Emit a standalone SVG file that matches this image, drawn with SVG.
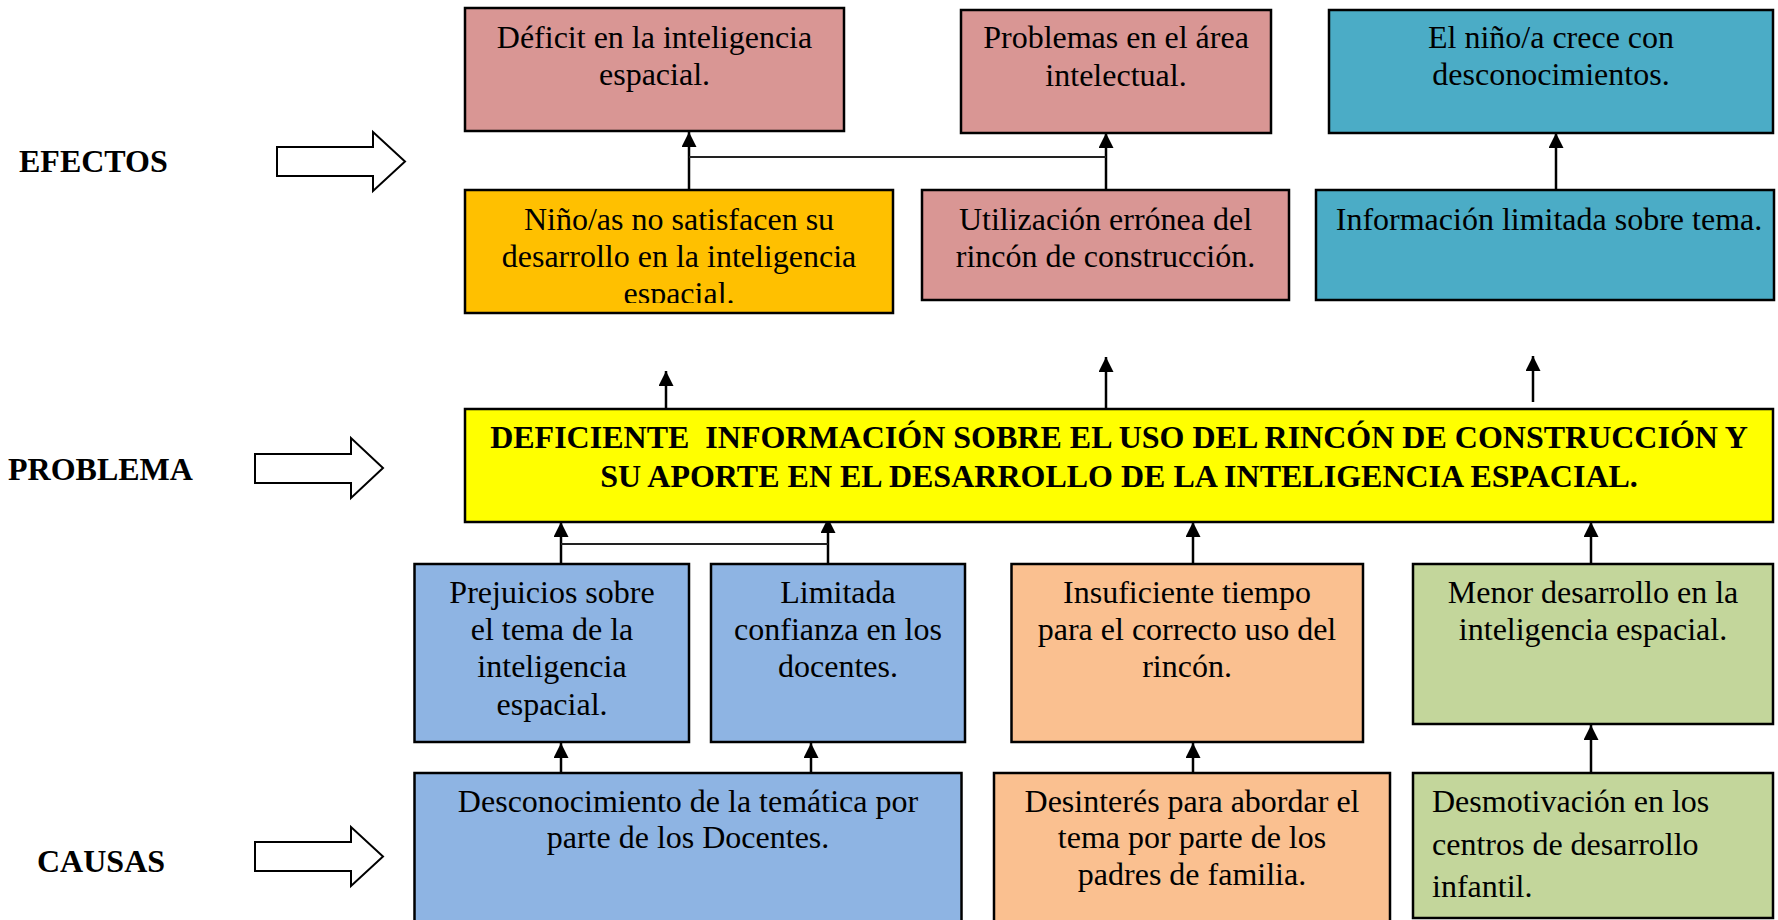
<svg xmlns="http://www.w3.org/2000/svg" width="1778" height="920" viewBox="0 0 1778 920">
<style>
.box{stroke:#000;stroke-width:2.5}
.t{font-family:"Liberation Serif","Times New Roman",serif;font-size:32px;fill:#000}
.c{text-anchor:middle}
.b{font-weight:bold}
.con{stroke:#000;stroke-width:2.5;fill:none}
.hl{stroke:#222;stroke-width:2;fill:none}
.ba{fill:#fff;stroke:#000;stroke-width:2}
.pink{fill:#D99694}.orange{fill:#FFC000}.teal{fill:#4BACC6}.yellow{fill:#FFFF00}
.blue{fill:#8EB4E3}.peach{fill:#FAC090}.green{fill:#C3D69B}
</style>
<defs>
<marker id="ah" markerUnits="userSpaceOnUse" markerWidth="16" markerHeight="16" refX="15" refY="7.5" orient="auto">
<path d="M0,0 L15,7.5 L0,15 z" fill="#000"/>
</marker>
<clipPath id="clipNino"><rect x="466" y="191" width="426" height="112"/></clipPath>
</defs>
<rect width="1778" height="920" fill="#fff"/>

<g id="labels">
<text class="t b" x="19" y="172">EFECTOS</text>
<polygon class="ba" points="277,147 373,147 373,132 405,161.5 373,191 373,176 277,176"/>
<text class="t b" x="8" y="480">PROBLEMA</text>
<polygon class="ba" points="255,454 351,454 351,438 383,468 351,498 351,483 255,483"/>
<text class="t b" x="37" y="872">CAUSAS</text>
<polygon class="ba" points="255,842 351,842 351,827 383,856.5 351,886 351,871 255,871"/>
</g>

<g id="connectors">
<line class="con" x1="689" y1="190" x2="689" y2="132" marker-end="url(#ah)"/>
<line class="con" x1="1106" y1="190" x2="1106" y2="133" marker-end="url(#ah)"/>
<line class="hl" x1="689" y1="157" x2="1106" y2="157"/>
<line class="con" x1="1556" y1="190" x2="1556" y2="133" marker-end="url(#ah)"/>
<line class="con" x1="666" y1="409" x2="666" y2="371" marker-end="url(#ah)"/>
<line class="con" x1="1106" y1="409" x2="1106" y2="357" marker-end="url(#ah)"/>
<line class="con" x1="1533" y1="402" x2="1533" y2="356" marker-end="url(#ah)"/>
<line class="con" x1="561" y1="564" x2="561" y2="522" marker-end="url(#ah)"/>
<line class="con" x1="828" y1="564" x2="828" y2="518" marker-end="url(#ah)"/>
<line class="hl" x1="561" y1="544" x2="828" y2="544"/>
<line class="con" x1="1193" y1="564" x2="1193" y2="522" marker-end="url(#ah)"/>
<line class="con" x1="1591" y1="564" x2="1591" y2="522" marker-end="url(#ah)"/>
<line class="con" x1="561" y1="773" x2="561" y2="743" marker-end="url(#ah)"/>
<line class="con" x1="811" y1="773" x2="811" y2="743" marker-end="url(#ah)"/>
<line class="con" x1="1193" y1="773" x2="1193" y2="743" marker-end="url(#ah)"/>
<line class="con" x1="1591" y1="773" x2="1591" y2="725" marker-end="url(#ah)"/>
</g>

<g id="e1">
<rect class="box pink" x="465" y="8" width="379" height="123"/>
<text class="t c" x="654.5" y="48">Déficit en la inteligencia</text>
<text class="t c" x="654.5" y="85">espacial.</text>
</g>
<g id="e2">
<rect class="box pink" x="961" y="10" width="310" height="123"/>
<text class="t c" x="1116" y="48">Problemas en el área</text>
<text class="t c" x="1116" y="86">intelectual.</text>
</g>
<g id="e3">
<rect class="box teal" x="1329" y="10" width="444" height="123"/>
<text class="t c" x="1551" y="48">El niño/a crece con</text>
<text class="t c" x="1551" y="85">desconocimientos.</text>
</g>
<g id="e4">
<rect class="box orange" x="465" y="190" width="428" height="123"/>
<g clip-path="url(#clipNino)">
<text class="t c" x="679" y="230">Niño/as no satisfacen su</text>
<text class="t c" x="679" y="267">desarrollo en la inteligencia</text>
<text class="t c" x="679" y="304">espacial.</text>
</g>
</g>
<g id="e5">
<rect class="box pink" x="922" y="190" width="367" height="110"/>
<text class="t c" x="1105.5" y="230">Utilización errónea del</text>
<text class="t c" x="1105.5" y="267">rincón de construcción.</text>
</g>
<g id="e6">
<rect class="box teal" x="1316" y="190" width="458" height="110"/>
<text class="t c" x="1549" y="230">Información limitada sobre tema.</text>
</g>

<g id="problem">
<rect class="box yellow" x="465" y="409" width="1308" height="113"/>
<text class="t c b" x="1119" y="448" xml:space="preserve">DEFICIENTE  INFORMACIÓN SOBRE EL USO DEL RINCÓN DE CONSTRUCCIÓN Y</text>
<text class="t c b" x="1119" y="487">SU APORTE EN EL DESARROLLO DE LA INTELIGENCIA ESPACIAL.</text>
</g>

<g id="c1">
<rect class="box blue" x="414.5" y="564" width="274.5" height="178"/>
<text class="t c" x="552" y="603">Prejuicios sobre</text>
<text class="t c" x="552" y="640">el tema de la</text>
<text class="t c" x="552" y="677">inteligencia</text>
<text class="t c" x="552" y="715">espacial.</text>
</g>
<g id="c2">
<rect class="box blue" x="711" y="564" width="254" height="178"/>
<text class="t c" x="838" y="603">Limitada</text>
<text class="t c" x="838" y="640">confianza en los</text>
<text class="t c" x="838" y="677">docentes.</text>
</g>
<g id="c3">
<rect class="box peach" x="1011.5" y="564" width="351.5" height="178"/>
<text class="t c" x="1187" y="603">Insuficiente tiempo</text>
<text class="t c" x="1187" y="640">para el correcto uso del</text>
<text class="t c" x="1187" y="677">rincón.</text>
</g>
<g id="c4">
<rect class="box green" x="1413" y="564" width="360" height="160"/>
<text class="t c" x="1593" y="603">Menor desarrollo en la</text>
<text class="t c" x="1593" y="640">inteligencia espacial.</text>
</g>
<g id="c5">
<rect class="box blue" x="414.5" y="773" width="547" height="160"/>
<text class="t c" x="688" y="812">Desconocimiento de la temática por</text>
<text class="t c" x="688" y="848">parte de los Docentes.</text>
</g>
<g id="c6">
<rect class="box peach" x="994" y="773" width="396" height="160"/>
<text class="t c" x="1192" y="812">Desinterés para abordar el</text>
<text class="t c" x="1192" y="848">tema por parte de los</text>
<text class="t c" x="1192" y="885">padres de familia.</text>
</g>
<g id="c7">
<rect class="box green" x="1413" y="773" width="360" height="145"/>
<text class="t" x="1432" y="812">Desmotivación en los</text>
<text class="t" x="1432" y="855">centros de desarrollo</text>
<text class="t" x="1432" y="897">infantil.</text>
</g>
</svg>
